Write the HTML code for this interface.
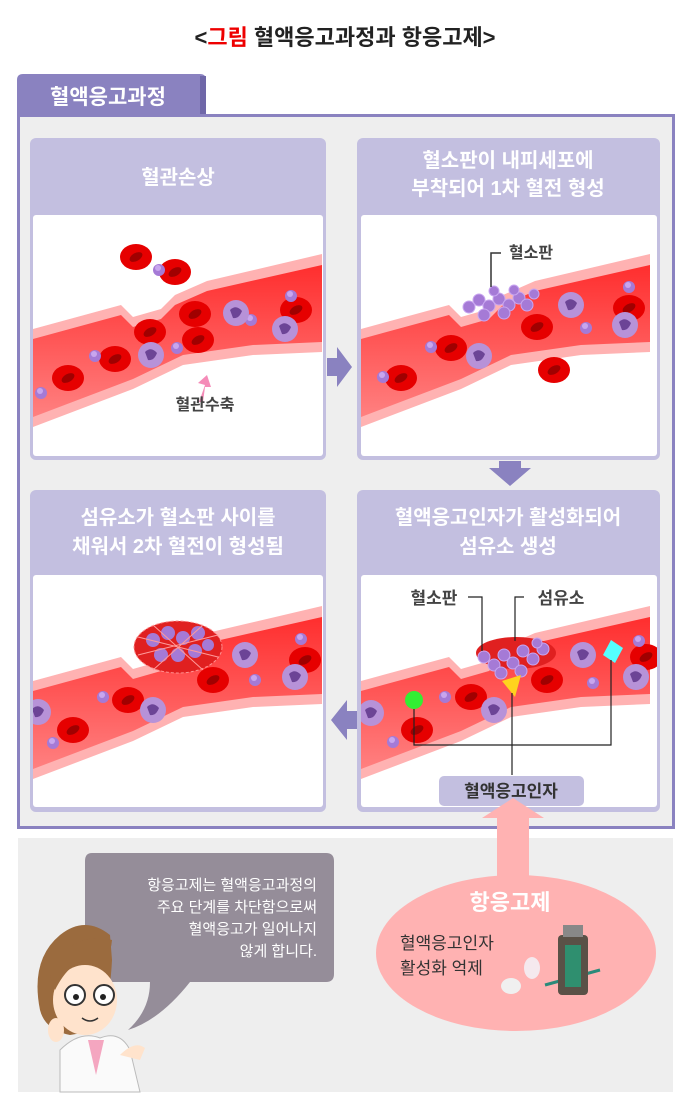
<!DOCTYPE html>
<html><head><meta charset="utf-8"><style>
body{margin:0;background:#fff;}
svg{display:block;font-family:"Liberation Sans","Noto Sans CJK KR",sans-serif;}
</style></head><body>
<svg width="690" height="1109" viewBox="0 0 690 1109" xmlns="http://www.w3.org/2000/svg">
<defs>
<linearGradient id="rg" x1="0" y1="0" x2="0" y2="1"><stop offset="0" stop-color="#ff2e2e"/><stop offset="1" stop-color="#ff8080"/></linearGradient>
<g id="vessel">
<path d="M0,114 L88,90 L100,102 L128,94 L142,80 L174,66 L289,39 L289,137 L220,140 L150,150 L100,174 L0,212 Z" fill="#ffb2b2"/>
<path d="M0,124 L88,100 L100,112 L128,104 L142,90 L174,76 L289,50 L289,127 L220,130 L150,140 L100,164 L0,202 Z" fill="url(#rg)"/>
</g>
<g id="rbc"><ellipse rx="16" ry="13" fill="#e60000"/><ellipse rx="7" ry="4" fill="#a00000" transform="rotate(-30)"/></g>
<g id="plt"><circle r="6" fill="#a57ad6"/><circle r="3" cx="-1" cy="-2" fill="#c8a6ee"/></g>
<g id="wbc"><circle r="13" fill="#b792d8"/><path d="M-6,-3 Q0,-9 6,-2 Q3,6 -3,5 Z" fill="#6c4496"/></g>
</defs>

<text x="345" y="45" text-anchor="middle" font-size="22" font-weight="bold" fill="#222">&lt;<tspan fill="#e00">그림</tspan> 혈액응고과정과 항응고제&gt;</text>

<path d="M17,114 L17,80 Q17,74 23,74 L200,74 Q206,74 206,80 L206,114 Z" fill="#8a82c0"/>
<rect x="200" y="76" width="6" height="38" fill="#6f67a8"/>
<text x="108" y="104" text-anchor="middle" font-size="21" font-weight="bold" fill="#fff">혈액응고과정</text>

<rect x="18.5" y="115.5" width="655" height="712" fill="#eeeeee" stroke="#8a82c0" stroke-width="3"/>

<g>
<rect x="30" y="138" width="296" height="322" rx="6" fill="#c3bfe0"/>
<rect x="33" y="215" width="290" height="241" rx="3" fill="#fff"/>
<text x="178" y="184" text-anchor="middle" font-size="20" font-weight="bold" fill="#fff">혈관손상</text>

<rect x="357" y="138" width="303" height="322" rx="6" fill="#c3bfe0"/>
<rect x="361" y="215" width="296" height="241" rx="3" fill="#fff"/>
<text x="508" y="167" text-anchor="middle" font-size="20" font-weight="bold" fill="#fff">혈소판이 내피세포에</text>
<text x="508" y="195" text-anchor="middle" font-size="20" font-weight="bold" fill="#fff">부착되어 1차 혈전 형성</text>

<rect x="30" y="490" width="296" height="322" rx="6" fill="#c3bfe0"/>
<rect x="33" y="575" width="290" height="232" rx="3" fill="#fff"/>
<text x="178" y="524" text-anchor="middle" font-size="20" font-weight="bold" fill="#fff">섬유소가 혈소판 사이를</text>
<text x="178" y="553" text-anchor="middle" font-size="20" font-weight="bold" fill="#fff">채워서 2차 혈전이 형성됨</text>

<rect x="357" y="490" width="303" height="322" rx="6" fill="#c3bfe0"/>
<rect x="361" y="575" width="296" height="232" rx="3" fill="#fff"/>
<text x="508" y="524" text-anchor="middle" font-size="20" font-weight="bold" fill="#fff">혈액응고인자가 활성화되어</text>
<text x="508" y="553" text-anchor="middle" font-size="20" font-weight="bold" fill="#fff">섬유소 생성</text>
</g>

<path d="M327,358 L337,358 L337,347 L352,367 L337,387 L337,376 L327,376 Z" fill="#8a82c0"/>
<path d="M499,461 L521,461 L521,468 L531,468 L510,486 L489,468 L499,468 Z" fill="#8a82c0"/>
<path d="M357,711 L347,711 L347,700 L331,720 L347,740 L347,729 L357,729 Z" fill="#8a82c0"/>

<g transform="translate(33,215)">
<clipPath id="c1"><rect width="289" height="241"/></clipPath>
<g clip-path="url(#c1)">
<use href="#vessel"/>
<use href="#rbc" x="103" y="42"/><use href="#rbc" x="142" y="57"/><use href="#rbc" x="117" y="117"/>
<use href="#rbc" x="162" y="99"/><use href="#rbc" x="165" y="125"/><use href="#rbc" x="82" y="144"/>
<use href="#rbc" x="35" y="163"/><use href="#rbc" x="263" y="95"/>
<use href="#plt" x="126" y="55"/><use href="#plt" x="62" y="141"/><use href="#plt" x="144" y="133"/>
<use href="#plt" x="218" y="105"/><use href="#plt" x="258" y="81"/><use href="#plt" x="8" y="178"/>
<use href="#wbc" x="203" y="98"/><use href="#wbc" x="118" y="140"/><use href="#wbc" x="252" y="114"/>
<path d="M166,187 L172,170 L165,168 L174,160 L178,172 L172,172 L170,187 Z" fill="#f58bb8"/>
<text x="172" y="195" text-anchor="middle" font-size="16" font-weight="bold" fill="#444">혈관수축</text>
</g></g>

<g transform="translate(361,215)">
<clipPath id="c2"><rect width="296" height="241"/></clipPath>
<g clip-path="url(#c2)">
<use href="#vessel"/>
<use href="#rbc" x="176" y="112"/><use href="#rbc" x="90" y="133"/><use href="#rbc" x="40" y="163"/>
<use href="#rbc" x="268" y="93"/><use href="#rbc" x="193" y="155"/>
<g fill="#a57ad6" stroke="#c9a6f0" stroke-width="1">
<circle cx="108" cy="92" r="6"/><circle cx="118" cy="85" r="6"/><circle cx="128" cy="91" r="6"/><circle cx="138" cy="84" r="6"/>
<circle cx="148" cy="90" r="6"/><circle cx="158" cy="83" r="6"/><circle cx="166" cy="90" r="6"/><circle cx="123" cy="100" r="6"/>
<circle cx="143" cy="98" r="6"/><circle cx="133" cy="76" r="5"/><circle cx="153" cy="75" r="5"/><circle cx="173" cy="79" r="5"/>
</g>
<path d="M130,72 L130,38 L140,38" fill="none" stroke="#333" stroke-width="1.5"/>
<text x="170" y="43" text-anchor="middle" font-size="16" font-weight="bold" fill="#444">혈소판</text>
<use href="#plt" x="70" y="132"/><use href="#plt" x="225" y="113"/><use href="#plt" x="268" y="72"/><use href="#plt" x="22" y="162"/>
<use href="#wbc" x="210" y="90"/><use href="#wbc" x="118" y="141"/><use href="#wbc" x="264" y="110"/>
</g></g>

<g transform="translate(33,575)">
<clipPath id="c3"><rect width="290" height="232"/></clipPath>
<g clip-path="url(#c3)">
<use href="#vessel" y="-8"/>
<ellipse cx="145" cy="72" rx="44" ry="26" fill="#e02020"/>
<g fill="#a57ad6"><circle cx="120" cy="65" r="7"/><circle cx="135" cy="58" r="7"/><circle cx="150" cy="63" r="7"/><circle cx="165" cy="58" r="7"/><circle cx="128" cy="80" r="7"/><circle cx="145" cy="80" r="7"/><circle cx="162" cy="76" r="7"/><circle cx="175" cy="70" r="6"/></g>
<ellipse cx="145" cy="72" rx="44" ry="26" fill="none" stroke="#ff9090" stroke-width="1" stroke-dasharray="3,2"/>
<path d="M105,62 L185,82 M105,80 L185,60 M120,50 L170,95 M120,95 L170,50" stroke="#ff9a9a" stroke-width="1"/>
<use href="#rbc" x="180" y="105"/><use href="#rbc" x="95" y="125"/><use href="#rbc" x="40" y="155"/><use href="#rbc" x="272" y="85"/>
<use href="#plt" x="70" y="122"/><use href="#plt" x="222" y="105"/><use href="#plt" x="268" y="64"/><use href="#plt" x="20" y="168"/>
<use href="#wbc" x="212" y="80"/><use href="#wbc" x="120" y="135"/><use href="#wbc" x="262" y="102"/><use href="#wbc" x="5" y="137"/>
</g></g>

<g transform="translate(361,575)">
<clipPath id="c4"><rect width="296" height="232"/></clipPath>
<g clip-path="url(#c4)">
<use href="#vessel" y="-8"/>
<ellipse cx="155" cy="78" rx="40" ry="16" fill="#e02020"/>
<g fill="#a57ad6" stroke="#c9a6f0" stroke-width="1">
<circle cx="123" cy="82" r="6"/><circle cx="133" cy="90" r="6"/><circle cx="143" cy="80" r="6"/><circle cx="152" cy="88" r="6"/>
<circle cx="162" cy="76" r="6"/><circle cx="172" cy="84" r="6"/><circle cx="182" cy="74" r="6"/><circle cx="140" cy="98" r="6"/><circle cx="160" cy="96" r="6"/><circle cx="176" cy="68" r="5"/></g>
<use href="#rbc" x="186" y="105"/><use href="#rbc" x="110" y="122"/><use href="#rbc" x="56" y="155"/><use href="#rbc" x="285" y="82"/>
<use href="#plt" x="84" y="122"/><use href="#plt" x="232" y="108"/><use href="#plt" x="278" y="66"/><use href="#plt" x="32" y="167"/>
<use href="#wbc" x="222" y="80"/><use href="#wbc" x="133" y="135"/><use href="#wbc" x="275" y="102"/><use href="#wbc" x="10" y="138"/>
<circle cx="53" cy="125" r="9" fill="#33ee33"/>
<path d="M141,106 L160,100 L154,122 Z" fill="#ffd21e"/>
<path d="M250,65 L262,73 L254,88 L242,80 Z" fill="#5ff"/>
<path d="M53,134 L53,170 L250,170 L250,85" fill="none" stroke="#222" stroke-width="1.2"/>
<path d="M151,118 L151,200" fill="none" stroke="#222" stroke-width="1.2"/>
<path d="M107,22 L121,22 L121,76" fill="none" stroke="#222" stroke-width="1.2"/>
<path d="M163,22 L154,22 L154,66" fill="none" stroke="#222" stroke-width="1.2"/>
<text x="73" y="29" text-anchor="middle" font-size="17" font-weight="bold" fill="#444">혈소판</text>
<text x="200" y="29" text-anchor="middle" font-size="17" font-weight="bold" fill="#444">섬유소</text>
</g>
<rect x="78" y="201" width="145" height="30" rx="5" fill="#c3bfe0"/>
<text x="150" y="222" text-anchor="middle" font-size="17" font-weight="bold" fill="#333">혈액응고인자</text>
</g>

<rect x="18" y="838" width="655" height="254" fill="#eeeeee"/>
<path d="M497,880 L497,818 L482,818 L513,798 L544,818 L529,818 L529,880 Z" fill="#ffb2b2"/>
<ellipse cx="516" cy="953" rx="140" ry="78" fill="#ffb2b2"/>
<text x="510" y="910" text-anchor="middle" font-size="22" font-weight="bold" fill="#fff">항응고제</text>
<text x="400" y="949" font-size="17" fill="#333">혈액응고인자</text>
<text x="400" y="974" font-size="17" fill="#333">활성화 억제</text>
<ellipse cx="511" cy="986" rx="10" ry="8" fill="#f0f0f0"/>
<ellipse cx="532" cy="968" rx="8" ry="11" fill="#f5e9ee"/>
<path d="M545,985 L600,970" stroke="#2a8a7a" stroke-width="3"/>
<rect x="558" y="935" width="30" height="60" rx="4" fill="#5a5147"/>
<rect x="563" y="925" width="20" height="12" fill="#888"/>
<rect x="565" y="945" width="16" height="42" fill="#2f8f6f"/>

<path d="M92,853 L326,853 Q334,853 334,861 L334,974 Q334,982 326,982 L190,982 Q160,1020 128,1030 Q150,1010 150,982 L92,982 Q85,982 85,974 L85,861 Q85,853 92,853 Z" fill="#958d99"/>
<g font-size="15" fill="#fff" text-anchor="end">
<text x="317" y="890">항응고제는 혈액응고과정의</text>
<text x="317" y="912">주요 단계를 차단함으로써</text>
<text x="317" y="934">혈액응고가 일어나지</text>
<text x="317" y="956">않게 합니다.</text>
</g>

<path d="M60,1092 L60,1050 Q80,1030 100,1038 Q120,1030 130,1050 L140,1092 Z" fill="#fafafa" stroke="#bbb"/>
<path d="M88,1040 L96,1075 L104,1040 Z" fill="#f4a6c0"/>
<path d="M40,1010 Q30,960 60,935 Q85,915 110,935 L112,960 Q110,1000 100,1030 L70,1035 Q45,1030 40,1010 Z" fill="#9b6b3e"/>
<ellipse cx="85" cy="1000" rx="32" ry="35" fill="#ffe3cc"/>
<path d="M50,975 Q70,930 112,940 Q110,965 90,960 Q70,960 55,990 Z" fill="#9b6b3e"/>
<circle cx="75" cy="995" r="10" fill="#fff" stroke="#333" stroke-width="2"/>
<circle cx="104" cy="995" r="10" fill="#fff" stroke="#333" stroke-width="2"/>
<circle cx="76" cy="997" r="3" fill="#222"/><circle cx="103" cy="997" r="3" fill="#222"/>
<path d="M82,1018 Q90,1024 98,1018" stroke="#333" stroke-width="1.5" fill="none"/>
<ellipse cx="56" cy="1030" rx="8" ry="12" fill="#ffe3cc"/>
<path d="M120,1055 Q135,1040 145,1048 L140,1060 Z" fill="#ffe3cc"/>
</svg>
</body></html>
